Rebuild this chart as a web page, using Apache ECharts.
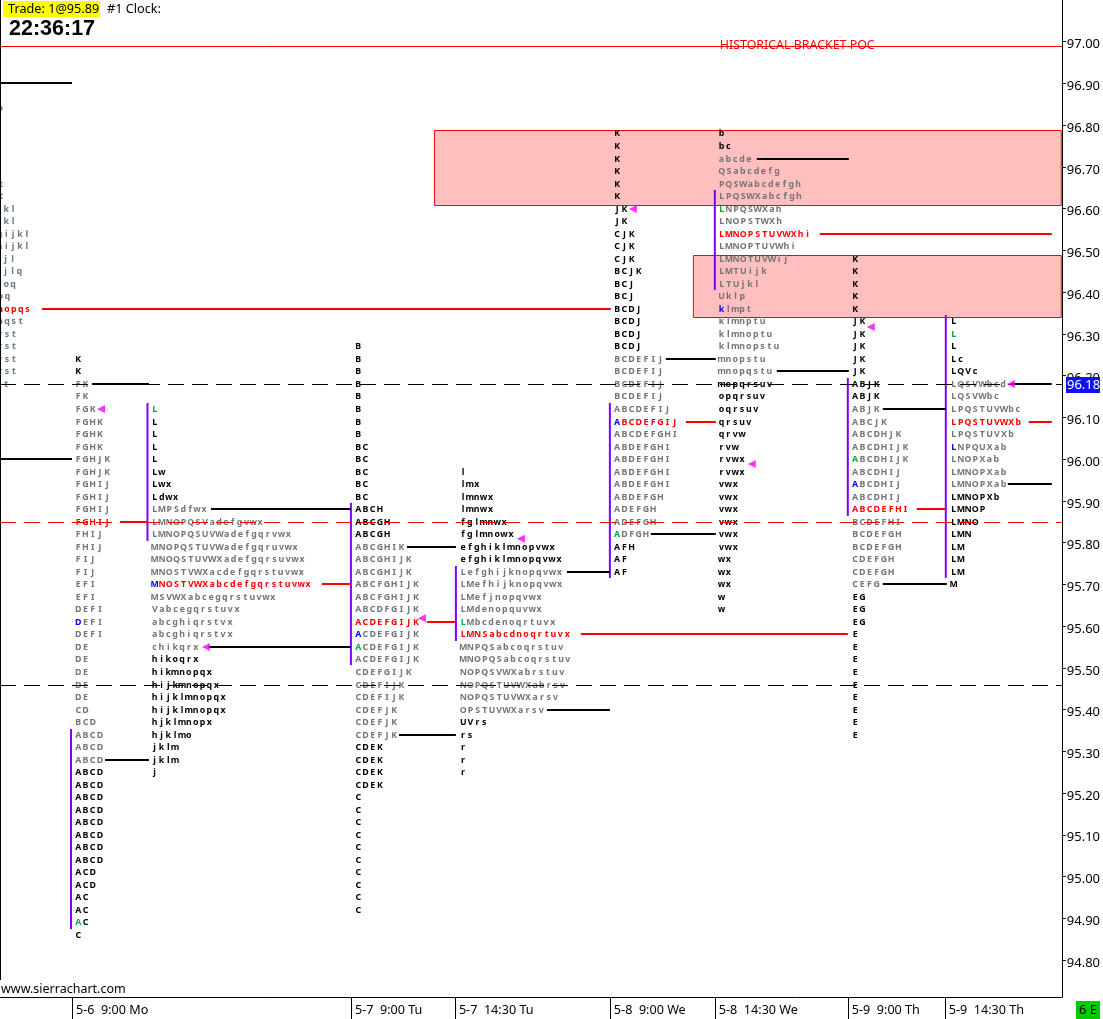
<!DOCTYPE html>
<html><head><meta charset="utf-8">
<style>html,body{margin:0;padding:0;background:#fff}#c{width:1103px;height:1019px}</style>
<script src="https://cdn.jsdelivr.net/npm/echarts@6/dist/echarts.min.js"></script>
</head><body><div id="c"></div>
<script>
const priceTicks=[97.0,96.9,96.8,96.7,96.6,96.5,96.4,96.3,96.2,96.1,96.0,95.9,95.8,95.7,95.6,95.5,95.4,95.3,95.2,95.1,95.0,94.9,94.8];
const sessionCols=[72,351,455,610,715,848,945];
const sessionLabels=["5-6  9:00 Mo","5-7  9:00 Tu","5-7  14:30 Tu","5-8  9:00 We","5-8  14:30 We","5-9  9:00 Th","5-9  14:30 Th"];

const p0Prices=[96.84,96.66,96.63,96.60,96.57,96.54,96.51,96.48,96.45,96.42,96.39,96.36,96.33,96.30,96.27,96.24,96.21,96.18];
const p0Rows=["o","t","t","kl","kl","gijkl","hijkl","jl","jlq","oq","pq","nopqs","pqst","rst","rst","rst","rst","t"];
const p0Cols=[-3,-2,-2,3,3,-3.7,-3.7,2.5,2.5,3,-2.8,-3,-3,-3,-3,-3,-3,3];

const p1Rows=["K","K","FK","FK","FGK","FGHK","FGHK","FGHK","FGHJK","FGHJK","FGHIJ","FGHIJ","FGHIJ","FGHIJ","FHIJ","FHIJ","FIJ","FIJ","EFI","EFI","DEFI","DEFI","DEFI","DE","DE","DE","DE","DE","CD","BCD","ABCD","ABCD","ABCD","ABCD","ABCD","ABCD","ABCD","ABCD","ABCD","ABCD","ABCD","ACD","ACD","AC","AC","AC","C"];
const p2Rows=["L","L","L","L","L","Lw","Lwx","Ldwx","LMPSdfwx","LMNOPQSVadefgvwx","LMNOPQSUVWadefgqrvwx","MNOPQSTUVWadefgqruvwx","MNOQSTUVWXadefgqrsuvwx","MNOSTVWXacdefgqrstuvwx","MNOSTVWXabcdefgqrstuvwx","MSVWXabcegqrstuvwx","Vabcegqrstuvx","abcghiqrstvx","abcghiqrstvx","chikqrx","hikoqrx","hikmnopqx","hijkmnopqx","hijklmnopqx","hijklmnopqx","hjklmnopx","hjklmo","jklm","jklm","j"];
const p3Rows=["B","B","B","B","B","B","B","B","BC","BC","BC","BC","BC","ABCH","ABCGH","ABCGH","ABCGHIK","ABCGHIJK","ABCGHIJK","ABCFGHIJK","ABCFGHIJK","ABCDFGIJK","ACDEFGIJK","ACDEFGIJK","ACDEFGIJK","ACDEFGIJK","CDEFGIJK","CDEFIJK","CDEFIJK","CDEFJK","CDEFJK","CDEFJK","CDEK","CDEK","CDEK","CDEK","C","C","C","C","C","C","C","C","C","C"];
const p4Rows=["l","lmx","lmnwx","lmnwx","fglmnwx","fglmnowx","efghiklmnopvwx","efghiklmnopqvwx","Lefghijknopqvwx","LMefhijknopqvwx","LMefjnopqvwx","LMdenopquvwx","LMbcdenoqrtuvx","LMNSabcdnoqrtuvx","MNPQSabcoqrstuv","MNOPQSabcoqrstuv","NOPQSVWXabrstuv","NOPQSTUVWXabrsv","NOPQSTUVWXarsv","OPSTUVWXarsv","UVrs","rs","r","r","r"];
const p5Rows=["K","K","K","K","K","K","JK","JK","CJK","CJK","CJK","BCJK","BCJ","BCJ","BCDJ","BCDJ","BCDJ","BCDJ","BCDEFIJ","BCDEFIJ","BCDEFIJ","BCDEFIJ","ABCDEFIJ","ABCDEFGIJ","ABCDEFGHI","ABDEFGHI","ABDEFGHI","ABDEFGHI","ABDEFGHI","ABDEFGH","ADEFGH","ADEFGH","ADFGH","AFH","AF","AF"];
const p6Rows=["b","bc","abcde","QSabcdefg","PQSWabcdefgh","LPQSWXabcfgh","LNPQSWXah","LNOPSTWXh","LMNOPSTUVWXhi","LMNOPTUVWhi","LMNOTUVWij","LMTUijk","LTUjkl","Uklp","klmpt","klmnptu","klmnoptu","klmnopstu","mnopstu","mnopqstu","mopqrsuv","opqrsuv","oqrsuv","qrsuv","qrvw","rvw","rvwx","rvwx","vwx","vwx","vwx","vwx","vwx","vwx","wx","wx","wx","w","w"];
const p7Rows=["K","K","K","K","K","JK","JK","JK","JK","JK","ABJK","ABJK","ABJK","ABCJK","ABCDHJK","ABCDHIJK","ABCDHIJK","ABCDHIJ","ABCDHIJ","ABCDHIJ","ABCDEFHI","BCDEFHI","BCDEFGH","BCDEFGH","CDEFGH","CDEFGH","CEFG","EG","EG","EG","E","E","E","E","E","E","E","E","E"];
const p8Rows=["L","L","L","Lc","LQVc","LQSVWbcd","LQSVWbc","LPQSTUVWbc","LPQSTUVWXb","LPQSTUVXb","LNPQUXab","LNOPXab","LMNOPXab","LMNOPXab","LMNOPXb","LMNOP","LMNO","LMN","LM","LM","LM","M"];

// first row price, start column, grey (value-area) price range, red (POC) price
const profileTops=[96.24,96.12,96.27,95.97,96.78,96.78,96.48,96.33];
const profileCols=[75,151.5,355,460,614,718.5,852,950.5];
const greyHigh=[96.18,95.88,95.79,95.73,96.24,96.72,96.12,96.18];
const greyLow=[95.28,95.55,95.34,95.40,95.82,96.21,95.70,95.94];
const pocPrices=[95.85,95.70,95.61,95.58,96.09,96.54,95.88,96.09];
// price, letter index, accent
const accentLetters=[[1,95.61,0,"blue"],[1,94.89,0,"green"],[2,96.12,0,"green"],[2,95.70,0,"blue"],[3,95.58,0,"blue"],[3,95.55,0,"green"],[4,95.61,0,"green"],[5,96.09,0,"blue"],[5,95.82,0,"green"],[6,96.60,0,"green"],[6,96.36,0,"blue"],[7,96.00,0,"green"],[7,95.94,0,"blue"],[8,96.30,0,"green"],[8,96.03,0,"blue"]];

// x1, x2, price
const blackLevels=[[0,72,96.90],[0,72,96.00],[92,149,96.18],[105,149,95.28],[211,351,95.88],[208,351,95.55],[399,456,95.34],[407,456,95.79],[547,610,95.40],[567,610,95.73],[651,716,95.82],[666,716,96.24],[757,849,96.72],[777,849,96.21],[883,946,96.12],[883,947,95.70],[1008,1052,95.94],[1011,1052,96.18]];
const redLevels=[[42,611,96.36],[120,147,95.85],[322,351,95.70],[427,456,95.61],[581,848,95.58],[686,716,96.09],[820,1052,96.54],[917,946,95.88],[1029,1052,96.09]];
const dashedBlack=[96.18,95.46];
const dashedRed=[95.85];
const bracketPoc=96.99;
// column, top price, bottom price
const ibBars=[[71,95.3535,94.8743],[147.5,96.1345,95.8039],[351,95.8949,95.5068],[456,95.744,95.5643],[610,96.1345,95.7152],[715,96.6448,96.4052],[848,96.1944,95.8638],[946,96.3453,95.7152]];
const bracketZones=[[434,1061,96.7885,96.6088],[693,1061,96.489,96.3405]];
const arrowMarks=[[101,96.12],[206,95.55],[422,95.619],[521,95.809],[633,96.599],[752,95.988],[871,96.3166],[1011,96.18]];

const BLACK="#000",GREY="#757575",GREYB="#66788a",RED="#ff0000",ACC={blue:"#0000ff",green:"#00b030"};
const allRows=[p1Rows,p2Rows,p3Rows,p4Rows,p5Rows,p6Rows,p7Rows,p8Rows];
const table=[];
p0Rows.forEach((s,i)=>table.push({col:p0Cols[i],price:p0Prices[i],text:s,color:p0Prices[i]===96.36?RED:GREYB,acc:{}}));
allRows.forEach((rows,k)=>{rows.forEach((s,i)=>{
  const price=+(profileTops[k]-i*0.03).toFixed(2);
  let color=BLACK;
  if(price<=greyHigh[k]+1e-6&&price>=greyLow[k]-1e-6)color=GREY;
  if(Math.abs(price-pocPrices[k])<1e-6)color=RED;
  const acc={};
  accentLetters.forEach(a=>{if(a[0]===k+1&&Math.abs(a[1]-price)<1e-6)acc[a[2]]=ACC[a[3]];});
  table.push({col:profileCols[k],price,text:s,color,acc});
});});

function adv(ch){return ch>='A'&&ch<='Z'?7.2:6.85;}
function lettersItem(params,api){
  const row=table[params.dataIndex];
  const p=api.coord([api.value(0),api.value(1)]);
  let x=p[0];const children=[];
  for(let i=0;i<row.text.length;i++){
    const ch=row.text[i],w=adv(ch);
    const fill=row.acc[i]||row.color;
    children.push({type:'text',silent:true,style:{x:x+w/2-0.3,y:Math.round(p[1])+0.5,text:ch,fill:fill,textAlign:'center',textVerticalAlign:'middle',font:"bold 8.8px 'Noto Sans'"}});
    x+=w;
  }
  return {type:'group',children};
}
function segItem(width,color,dash){
  return function(params,api){
    const a=api.coord([api.value(0),api.value(2)]),b=api.coord([api.value(1),api.value(2)]);
    const y=width%2?Math.round(a[1])+0.5:Math.round(a[1]);
    return {type:'line',silent:true,shape:{x1:a[0],y1:y,x2:b[0],y2:y},style:{stroke:color,lineWidth:width,lineDash:dash||null}};
  };
}
function barItem(params,api){
  const a=api.coord([api.value(0),api.value(1)]),b=api.coord([api.value(0),api.value(2)]);
  return {type:'line',silent:true,shape:{x1:a[0],y1:a[1],x2:a[0],y2:b[1]},style:{stroke:'#7f00ff',lineWidth:2}};
}
function zoneItem(params,api){
  const a=api.coord([api.value(0),api.value(2)]),b=api.coord([api.value(1),api.value(3)]);
  return {type:'rect',silent:true,shape:{x:a[0]+.5,y:Math.round(a[1])+.5,width:b[0]-a[0],height:Math.round(b[1])-Math.round(a[1])},style:{fill:'#ffbfbf',stroke:'#ff0000',lineWidth:1}};
}
const series=[
 {type:'custom',name:'zones',z:1,renderItem:zoneItem,data:bracketZones,encode:{x:[0,1],y:[2,3]}},
 {type:'custom',name:'letters',z:3,renderItem:lettersItem,data:table.map(r=>[r.col,r.price]),encode:{x:0,y:1}},
 {type:'custom',name:'ib',z:4,renderItem:barItem,data:ibBars,encode:{x:0,y:[1,2]}},
 {type:'custom',name:'black',z:5,renderItem:segItem(2,'#000'),data:blackLevels,encode:{x:[0,1],y:2}},
 {type:'custom',name:'red',z:5,renderItem:segItem(2,'#ff0000'),data:redLevels,encode:{x:[0,1],y:2}},
 {type:'custom',name:'dashB',z:6,renderItem:segItem(1,'#000',[16,8]),data:dashedBlack.map(p=>[0,1062,p]),encode:{x:[0,1],y:2}},
 {type:'custom',name:'dashR',z:6,renderItem:segItem(1,'#ff0000',[16,8]),data:dashedRed.map(p=>[0,1062,p]),encode:{x:[0,1],y:2}},
 {type:'custom',name:'poc',z:6,renderItem:segItem(1,'#ff0000'),data:[[0,1062,bracketPoc]],encode:{x:[0,1],y:2}},
 {type:'custom',name:'pocText',z:7,data:[[720,bracketPoc]],encode:{x:0,y:1},renderItem:(params,api)=>{const p=api.coord([api.value(0),api.value(1)]);return {type:'text',silent:true,style:{x:p[0],y:p[1],text:'HISTORICAL BRACKET POC',fill:'#ff0000',textVerticalAlign:'middle',font:"12.4px 'Noto Sans'"}};}},
 {type:'scatter',name:'arrows',z:8,symbol:'triangle',symbolRotate:90,symbolSize:8,itemStyle:{color:'#ff00ff'},data:arrowMarks,silent:true}
];
const chart=echarts.init(document.getElementById('c'),null,{renderer:'canvas'});
const LF="'Noto Sans'";
chart.setOption({
 animation:false,backgroundColor:'#fff',
 grid:{left:0,top:0,width:1062,height:997,containLabel:false},
 tooltip:{show:false},
 xAxis:{type:'value',min:0,max:1062,splitLine:{show:false},
   axisLine:{show:true,lineStyle:{color:'#000',width:1}},
   axisTick:{show:true,length:22,customValues:sessionCols,lineStyle:{color:'#000',width:1}},
   axisLabel:{show:true,customValues:sessionCols,formatter:v=>sessionLabels[sessionCols.indexOf(v)]||'',align:'left',verticalAlign:'middle',margin:13,padding:[0,0,0,4],color:'#000',fontFamily:LF,fontSize:12.6}},
 yAxis:{type:'value',position:'right',min:94.7114,max:97.0998,scale:true,splitLine:{show:false},
   axisLine:{show:true,onZero:false,lineStyle:{color:'#000',width:1}},
   axisTick:{show:true,length:4,customValues:priceTicks,lineStyle:{color:'#000',width:1}},
   axisLabel:{show:true,customValues:priceTicks,formatter:v=>v.toFixed(2),margin:5,verticalAlign:'top',lineHeight:6,color:'#000',fontFamily:LF,fontSize:13}},
 graphic:[
  {type:'rect',z:100,shape:{x:3,y:1,width:97,height:16},style:{fill:'#ffff00'}},
  {type:'text',z:101,x:8,y:9,style:{text:'Trade: 1@95.89',fill:'#000',font:"12.7px "+LF,textVerticalAlign:'middle'}},
  {type:'text',z:101,x:107,y:9,style:{text:'#1 Clock:',fill:'#000',font:"12.7px "+LF,textVerticalAlign:'middle'}},
  {type:'text',z:101,x:9,y:29,style:{text:'22:36:17',fill:'#000',font:"bold 21.5px 'Liberation Sans'",textVerticalAlign:'middle'}},
  {type:'line',z:101,shape:{x1:.5,y1:0,x2:.5,y2:980},style:{stroke:'#000',lineWidth:1}},
  {type:'text',z:101,x:1,y:989,style:{text:'www.sierrachart.com',fill:'#000',font:"12.5px "+LF,textVerticalAlign:'middle'}},
  {type:'rect',z:100,shape:{x:1066,y:377,width:34,height:16},style:{fill:'#1010ff'}},
  {type:'text',z:101,x:1067,y:385.5,style:{text:'96.18',fill:'#fff',font:"13px "+LF,textVerticalAlign:'middle'}},
  {type:'rect',z:100,shape:{x:1076,y:1001,width:24,height:18},style:{fill:'#00cc00'}},
  {type:'text',z:101,x:1088,y:1010,style:{text:'6 E',fill:'#000',font:"13px "+LF,textAlign:'center',textVerticalAlign:'middle'}}
 ],
 series
});
</script></body></html>
